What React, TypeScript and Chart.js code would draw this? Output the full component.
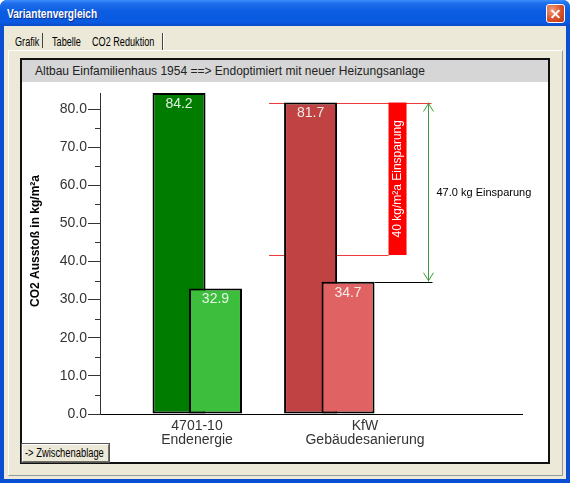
import React, { useEffect, useRef } from 'react';
import { Chart, registerables } from 'chart.js';

Chart.register(...registerables);

// ---------- data ----------
const categories: string[][] = [
  ['4701-10', 'Endenergie'],
  ['KfW', 'Gebäudesanierung'],
];
const vorher: number[] = [84.2, 81.7]; // CO2 before (kg/m²a)
const nachher: number[] = [32.9, 34.7]; // CO2 after (kg/m²a)
const yTickValues: number[] = [0, 5, 10, 15, 20, 25, 30, 35, 40, 45, 50, 55, 60, 65, 70, 75, 80];
const zielEinsparung = 40; // target saving kg/m²a (red marker)
const chartTitle = 'Altbau Einfamilienhaus 1954 ==> Endoptimiert mit neuer Heizungsanlage';
const yAxisTitle = 'CO2 Ausstoß in kg/m²a';

// ---------- layout / style ----------
const vorherOffset = [-0.107, -0.324]; // bar centre offsets from category position (category units)
const nachherOffset = [0.11, -0.101];
const vorherColors = ['#007d00', '#c04242'];
const nachherColors = ['#3dbf3d', '#e06262'];
const FONT = '"Liberation Sans", Arial, sans-serif';

const crisp = (v: number) => Math.round(v) + 0.5;

const co2Plugin = {
  id: 'co2Annotations',
  beforeDatasetsDraw(chart: any) {
    const { ctx, scales } = chart;
    const y = scales.y;
    const i = 1;
    const dark = chart.getDatasetMeta(0).data[i];
    const light = chart.getDatasetMeta(1).data[i];
    if (!dark || !light) return;
    const darkLeft = dark.x - dark.width / 2;
    const lightRight = light.x + light.width / 2;
    const yTop = y.getPixelForValue(vorher[i]);
    const yMid = y.getPixelForValue(vorher[i] - zielEinsparung);
    const barL = lightRight + 14;
    const arrowX = lightRight + 53;
    ctx.save();
    ctx.globalAlpha = 1;
    ctx.setLineDash([]);
    ctx.fillStyle = '#ee3a3a';
    ctx.fillRect(darkLeft - 15, Math.round(yTop), arrowX + 4 - (darkLeft - 15), 1);
    ctx.fillRect(darkLeft - 15, Math.round(yMid), barL - (darkLeft - 15), 1);
    ctx.restore();
  },
  afterDatasetsDraw(chart: any) {
    const { ctx, scales, chartArea } = chart;
    const y = scales.y;
    ctx.save();

    // minor ticks on y axis
    ctx.strokeStyle = '#333';
    ctx.lineWidth = 1;
    ctx.beginPath();
    yTickValues.forEach((v) => {
      if (v % 10 !== 0) {
        const py = crisp(y.getPixelForValue(v));
        ctx.moveTo(chartArea.left - 5, py);
        ctx.lineTo(chartArea.left, py);
      }
    });
    ctx.stroke();

    // value labels inside bars
    ctx.font = `14px ${FONT}`;
    ctx.textAlign = 'center';
    ctx.textBaseline = 'middle';
    [0, 1].forEach((d) => {
      const vals = d === 0 ? vorher : nachher;
      chart.getDatasetMeta(d).data.forEach((el: any, k: number) => {
        ctx.fillStyle = 'rgba(245,250,245,0.92)';
        ctx.fillText(vals[k].toFixed(1), el.x, el.y + 11);
      });
    });

    // annotation for second category
    const i = 1;
    const light = chart.getDatasetMeta(1).data[i];
    if (light) {
      const lightRight = light.x + light.width / 2;
      const yTop = y.getPixelForValue(vorher[i]);
      const yMid = y.getPixelForValue(vorher[i] - zielEinsparung);
      const yBot = y.getPixelForValue(nachher[i]);
      const barL = lightRight + 14;
      const barW = 18;
      const arrowX = crisp(lightRight + 53);

      ctx.fillStyle = '#ff0000';
      ctx.fillRect(barL, yTop, barW, yMid - yTop);
      ctx.save();
      ctx.translate(barL + barW / 2 + 0.5, (yTop + yMid) / 2);
      ctx.rotate(-Math.PI / 2);
      ctx.fillStyle = '#ffffff';
      ctx.font = `12px ${FONT}`;
      ctx.textAlign = 'center';
      ctx.textBaseline = 'middle';
      ctx.fillText(`${zielEinsparung} kg/m²a Einsparung`, 0, 0);
      ctx.restore();

      ctx.strokeStyle = '#000';
      ctx.lineWidth = 1;
      ctx.beginPath();
      ctx.moveTo(lightRight, crisp(yBot));
      ctx.lineTo(arrowX + 4, crisp(yBot));
      ctx.stroke();

      ctx.strokeStyle = '#3f9a3f';
      ctx.beginPath();
      ctx.moveTo(arrowX, yTop);
      ctx.lineTo(arrowX, yBot);
      ctx.moveTo(arrowX - 5, yTop + 9);
      ctx.lineTo(arrowX, yTop + 1);
      ctx.lineTo(arrowX + 5, yTop + 9);
      ctx.moveTo(arrowX - 5, yBot - 9);
      ctx.lineTo(arrowX, yBot - 1);
      ctx.lineTo(arrowX + 5, yBot - 9);
      ctx.stroke();

      ctx.fillStyle = '#000';
      ctx.font = `11px ${FONT}`;
      ctx.textAlign = 'left';
      ctx.textBaseline = 'middle';
      ctx.fillText(`${(vorher[i] - nachher[i]).toFixed(1)} kg Einsparung`, arrowX + 8, (yTop + yBot) / 2 + 1);
    }

    // y axis title
    ctx.save();
    ctx.translate(14, 159);
    ctx.rotate(-Math.PI / 2);
    ctx.fillStyle = '#000';
    ctx.font = `bold 12px ${FONT}`;
    ctx.textAlign = 'center';
    ctx.textBaseline = 'middle';
    ctx.fillText(yAxisTitle, 0, 0);
    ctx.restore();

    ctx.restore();
  },
};

const abs = (l: number, t: number, w: number, h: number): React.CSSProperties => ({
  position: 'absolute',
  left: l,
  top: t,
  width: w,
  height: h,
  boxSizing: 'border-box',
});

const sysText = (l: number, t: number, txt: string, extra: React.CSSProperties = {}) => (
  <div
    style={{
      position: 'absolute',
      left: l,
      top: t,
      fontFamily: FONT,
      fontSize: 12,
      lineHeight: '14px',
      whiteSpace: 'nowrap',
      transform: 'scaleX(0.76)',
      transformOrigin: 'left center',
      color: '#000',
      ...extra,
    }}
  >
    {txt}
  </div>
);

const barDataset = (label: string, vals: number[], offs: number[], colors: string[], order: number) =>
  ({
    label,
    data: vals.map((v, i) => ({ x: i + 1 + offs[i], y: v })),
    backgroundColor: colors,
    borderColor: '#000',
    borderWidth: 2,
    borderSkipped: false,
    grouped: false,
    barPercentage: 1,
    categoryPercentage: 2,
    maxBarThickness: 53,
    order,
  }) as any;

export default function App() {
  const canvasRef = useRef<HTMLCanvasElement>(null);

  useEffect(() => {
    document.body.style.overflow = 'hidden';
    const canvas = canvasRef.current;
    if (!canvas) return;
    const chart = new Chart(canvas, {
      type: 'bar',
      data: {
        datasets: [
          barDataset('vorher', vorher, vorherOffset, vorherColors, 2),
          barDataset('nachher', nachher, nachherOffset, nachherColors, 1),
        ],
      },
      options: {
        responsive: false,
        animation: false,
        events: [],
        layout: { padding: { top: 11, right: 26, left: 0, bottom: 0 } },
        plugins: {
          legend: { display: false },
          tooltip: { enabled: false },
          title: { display: false },
        },
        scales: {
          x: {
            type: 'linear',
            offset: false,
            bounds: 'data',
            min: 0.4226,
            max: 2.9345,
            grid: { display: false, drawTicks: false, offset: false },
            border: { display: true, color: '#000', width: 1 },
            ticks: {
              color: '#333',
              font: { family: FONT, size: 14, lineHeight: 1.0 },
              padding: 5,
              autoSkip: false,
              maxRotation: 0,
              callback: (_v: any, i: number) => categories[i],
            },
            afterBuildTicks: (s: any) => {
              s.ticks = categories.map((_c, i) => ({ value: i + 1 }));
            },
            afterFit: (s: any) => {
              s.height = 48;
              s.paddingLeft = 0;
              s.paddingRight = 0;
            },
          },
          y: {
            type: 'linear',
            min: 0,
            max: Math.max(...vorher),
            grid: {
              display: true,
              drawOnChartArea: false,
              drawTicks: true,
              tickLength: 12,
              tickColor: (c: any) => (c.tick && c.tick.value % 10 === 0 ? '#333' : 'rgba(0,0,0,0)'),
            },
            border: { display: true, color: '#333', width: 1 },
            ticks: {
              color: '#333',
              font: { family: FONT, size: 14 },
              padding: 1,
              autoSkip: false,
              callback: (v: any) => (Number(v) % 10 === 0 ? Number(v).toFixed(1) : ''),
            },
            afterBuildTicks: (s: any) => {
              s.ticks = yTickValues.map((v) => ({ value: v }));
            },
            afterFit: (s: any) => {
              s.width = 78;
              s.paddingTop = 0;
              s.paddingBottom = 0;
            },
          },
        },
      } as any,
      plugins: [co2Plugin],
    });
    return () => chart.destroy();
  }, []);

  return (
    <div style={{ ...abs(0, 0, 570, 483), background: '#0a4fd2', borderRadius: '7px 7px 0 0', overflow: 'hidden' }}>
      <div
        style={{
          ...abs(0, 0, 570, 26),
          background: 'linear-gradient(#3d8ff9 0%, #1f6fee 12%, #0b5ce0 45%, #0a5ae2 85%, #0a4cc6 100%)',
        }}
      />
      <div
        style={{
          position: 'absolute',
          left: 7,
          top: 6,
          fontFamily: FONT,
          fontWeight: 'bold',
          fontSize: 13,
          lineHeight: '16px',
          color: '#fff',
          textShadow: '1px 1px #0a2a8a',
          transform: 'scaleX(0.78)',
          transformOrigin: 'left center',
          whiteSpace: 'nowrap',
        }}
      >
        Variantenvergleich
      </div>
      <div
        style={{
          ...abs(546, 4, 19, 19),
          border: '1px solid #fff',
          borderRadius: 3,
          background: 'radial-gradient(circle at 30% 30%, #f0a080, #d9502a 55%, #b83a14)',
        }}
      >
        <div style={{ ...abs(3, 7.5, 11, 2), background: '#fff', transform: 'rotate(45deg)' }} />
        <div style={{ ...abs(3, 7.5, 11, 2), background: '#fff', transform: 'rotate(-45deg)' }} />
      </div>
      <div style={{ ...abs(4, 26, 562, 453), background: '#ece9d8' }} />
      <div
        style={{
          ...abs(8, 50, 555, 426),
          borderTop: '1px solid #fff',
          borderLeft: '1px solid #fff',
          borderRight: '1px solid #919b9c',
          borderBottom: '1px solid #919b9c',
        }}
      />
      {sysText(15, 35, 'Grafik')}
      <div style={{ ...abs(42, 33, 1, 15), background: '#444' }} />
      {sysText(52, 35, 'Tabelle')}
      {sysText(92, 35, 'CO2 Reduktion')}
      <div style={{ ...abs(162, 33, 1, 17), background: '#444' }} />
      <div style={{ ...abs(163, 33, 1, 17), background: '#fff' }} />
      <div style={{ ...abs(20, 58, 530, 406), border: '2px solid #111', background: '#fff' }} />
      <div style={{ ...abs(22, 60, 526, 22), background: '#d6d6d6' }} />
      <div
        style={{
          position: 'absolute',
          left: 35,
          top: 60,
          height: 22,
          lineHeight: '22px',
          fontFamily: FONT,
          fontSize: 12,
          color: '#222',
          whiteSpace: 'nowrap',
        }}
      >
        {chartTitle}
      </div>
      <canvas ref={canvasRef} width={526} height={380} style={{ position: 'absolute', left: 22, top: 82, width: 526, height: 380 }} />
      <div
        style={{
          ...abs(22, 444, 87, 18),
          background: '#ece9d8',
          borderTop: '1px solid #fff',
          borderLeft: '1px solid #fff',
          borderRight: '1px solid #716f64',
          borderBottom: '1px solid #716f64',
          outline: '1px solid #555',
        }}
      />
      {sysText(25, 446, '-> Zwischenablage', { fontSize: 12, transform: 'scaleX(0.78)' })}
    </div>
  );
}
